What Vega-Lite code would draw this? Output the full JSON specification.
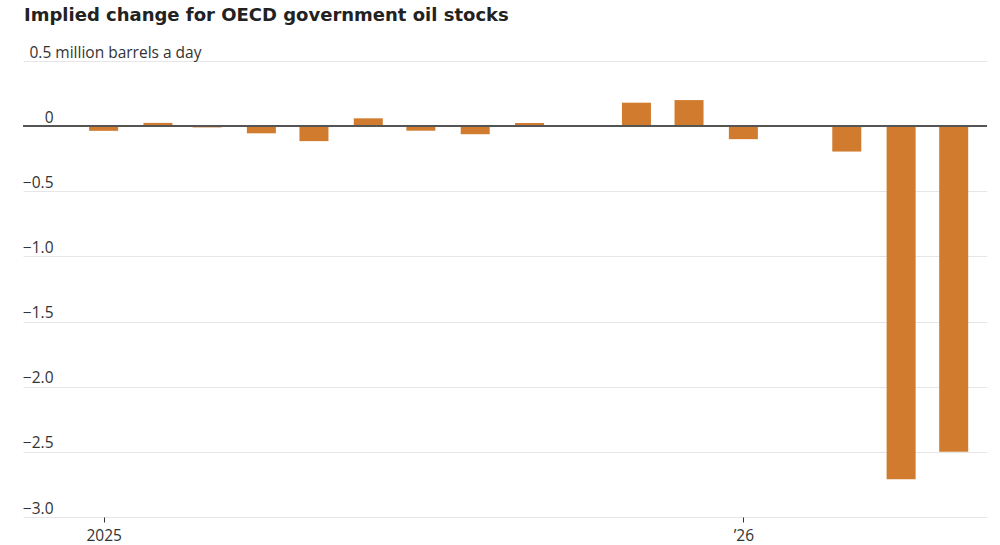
{
  "$schema": "https://vega.github.io/schema/vega-lite/v6.json",
  "width": 964,
  "height": 456,
  "autosize": {"type": "none"},
  "padding": {"left": 23, "top": 61, "right": 13, "bottom": 28},
  "background": "white",
  "title": {
    "text": "Implied change for OECD government oil stocks",
    "anchor": "start",
    "frame": "group",
    "font": "DejaVu Sans",
    "fontSize": 18,
    "fontWeight": "bold",
    "color": "#222222",
    "baseline": "alphabetic",
    "dx": 1,
    "offset": 6
  },
  "config": {"view": {"stroke": null}},
  "data": {
    "values": [
      {"month": "2025-01-01", "value": -0.036},
      {"month": "2025-02-01", "value": 0.025},
      {"month": "2025-03-01", "value": -0.01},
      {"month": "2025-04-01", "value": -0.055},
      {"month": "2025-05-01", "value": -0.115},
      {"month": "2025-06-01", "value": 0.06},
      {"month": "2025-07-01", "value": -0.035},
      {"month": "2025-08-01", "value": -0.062},
      {"month": "2025-09-01", "value": 0.025},
      {"month": "2025-10-01", "value": 0},
      {"month": "2025-11-01", "value": 0.18},
      {"month": "2025-12-01", "value": 0.2},
      {"month": "2026-01-01", "value": -0.1},
      {"month": "2026-02-01", "value": 0},
      {"month": "2026-03-01", "value": -0.195},
      {"month": "2026-04-01", "value": -2.71},
      {"month": "2026-05-01", "value": -2.5}
    ]
  },
  "layer": [
    {
      "mark": {"type": "bar", "size": 29, "color": "#D07B2E"},
      "encoding": {
        "x": {
          "field": "month",
          "type": "temporal",
          "scale": {"type": "utc", "padding": 0, "domain": [{"year": 2024, "month": 11, "date": 16, "utc": true}, {"year": 2026, "month": 5, "date": 20, "utc": true}]},
          "axis": {
            "title": null,
            "domain": false,
            "grid": false,
            "values": [{"year": 2025, "month": 1, "date": 1, "utc": true}, {"year": 2026, "month": 1, "date": 1, "utc": true}],
            "labelExpr": "utcyear(datum.value) == 2025 ? '2025' : '’26'",
            "tickSize": 5,
            "tickColor": "#333333",
            "labelFont": "Open Sans",
            "labelFontSize": 15.5,
            "labelColor": "#333333",
            "labelPadding": 6
          }
        },
        "y": {
          "field": "value",
          "type": "quantitative",
          "scale": {"domain": [-3, 0.5], "nice": false},
          "axis": {
            "title": null,
            "domain": false,
            "ticks": false,
            "tickSize": 0,
            "values": [0.5, 0, -0.5, -1, -1.5, -2, -2.5, -3],
            "labelExpr": "datum.value == 0 ? '0' : datum.value == 0.5 ? '0.5 million barrels a day' : format(datum.value, '.1f')",
            "labelAlign": {"condition": {"test": "datum.value == 0.5", "value": "left"}, "value": "right"},
            "labelPadding": {"condition": {"test": "datum.value == 0.5", "value": -6}, "value": -30},
            "labelBaseline": "alphabetic",
            "labelOffset": -4,
            "labelFont": "Open Sans",
            "labelFontSize": 15.5,
            "labelColor": "#333333",
            "gridColor": "#e6e6e6",
            "gridWidth": 1
          }
        }
      }
    },
    {
      "mark": {"type": "rule", "color": "#555555", "strokeWidth": 1.5},
      "encoding": {"y": {"datum": 0, "type": "quantitative"}}
    }
  ]
}
